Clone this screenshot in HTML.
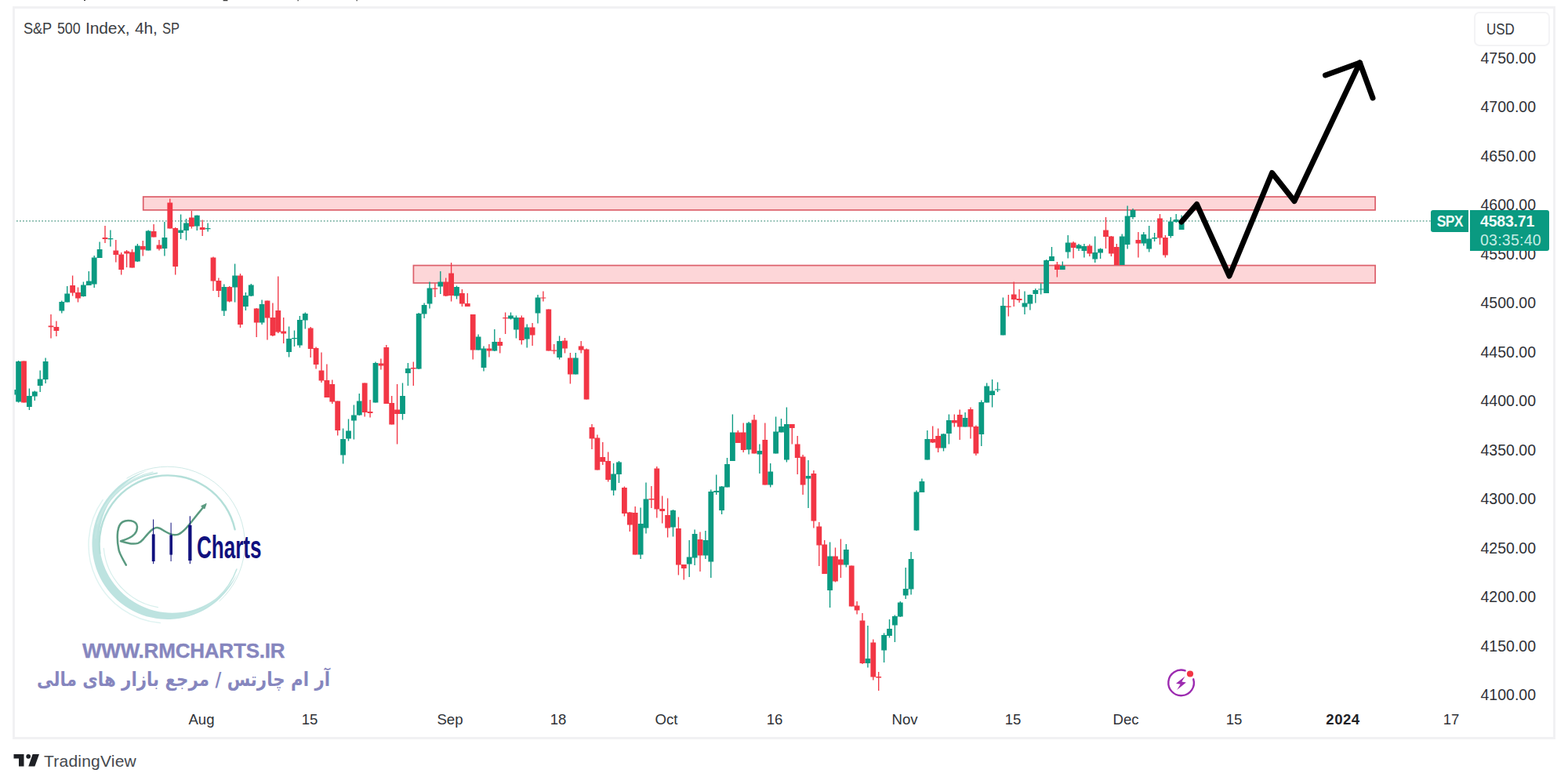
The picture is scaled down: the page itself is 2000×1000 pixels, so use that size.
<!DOCTYPE html>
<html lang="en"><head><meta charset="utf-8"><title>S&amp;P 500 Index, 4h, SP</title>
<style>
html,body{margin:0;padding:0;background:#fff;}
body{width:2000px;height:1000px;position:relative;overflow:hidden;font-family:"Liberation Sans",sans-serif;color:#2f3237;}
.frame{position:absolute;left:16.4px;top:8px;width:1967.6px;height:935px;border:3.4px solid #f1f1f3;box-sizing:border-box;}
.title{position:absolute;left:30.5px;top:24px;font-size:19.6px;line-height:24px;white-space:nowrap;color:#3b3e43;letter-spacing:-0.1px}
.title span{position:absolute;top:0;display:block;transform-origin:0 50%}
.usd{position:absolute;left:1880.3px;top:15px;width:97px;height:44px;border:2.4px solid #f3f3f5;border-radius:7px;box-sizing:border-box;}
.usd span{position:absolute;left:14.2px;top:7.6px;font-size:19.5px;line-height:24px;color:#35383d;display:inline-block;transform:scaleX(.87);transform-origin:0 50%}
.pl{position:absolute;left:1859px;width:100px;text-align:right;font-size:19.5px;line-height:24px;height:24px;color:#2f3237;white-space:nowrap;transform:scaleY(1.06)}
.tl{position:absolute;top:905.6px;width:80px;text-align:center;font-size:18.6px;line-height:24px;color:#2f3237;white-space:nowrap}
.tl.b{font-weight:bold;color:#1f2226;letter-spacing:.5px}
.spx{position:absolute;left:1825px;top:268px;width:48px;height:27.5px;background:#0a9a81;border-radius:3px 0 0 3px;color:#eefaf7;font-size:19.5px;line-height:28px;text-align:center;}
.spx span{display:inline-block;transform:scaleX(.9);font-weight:bold;letter-spacing:-0.8px}
.pv{position:absolute;left:1875px;top:268px;width:101px;height:52px;background:#0a9a81;border-radius:0 3px 3px 0;color:#f1fbf9;font-size:19.5px;}
.pv div{position:absolute;left:13px;white-space:nowrap;line-height:24px;letter-spacing:0.25px}
.tv{position:absolute;left:56px;top:958.7px;font-size:21px;line-height:24px;color:#45484e;white-space:nowrap;letter-spacing:0.22px}
.www{position:absolute;left:105px;top:814.6px;font-size:26px;line-height:30px;font-weight:bold;color:#8686be;white-space:nowrap;letter-spacing:-0.2px;-webkit-text-stroke:0.35px #8686be}
svg{position:absolute;left:0;top:0}
</style></head><body>
<div class="frame"></div>
<svg width="2000" height="1000" viewBox="0 0 2000 1000">
<!-- cropped header remnants -->
<g fill="#3a3a3a"><rect x="107" y="0" width="2" height="1"/><rect x="284.5" y="0" width="6" height="1.3" rx=".6"/><rect x="379.5" y="0" width="1.3" height="1.3"/><rect x="454.5" y="0" width="1.3" height="1.3"/></g>
<!-- zones -->
<rect x="182.7" y="251" width="1571.4" height="16.9" fill="#fdd6d8" stroke="#dc5f6a" stroke-width="1.7"/>
<rect x="527.4" y="338.55" width="1226.7" height="22.4" fill="#fdd6d8" stroke="#dc5f6a" stroke-width="1.7"/>
<!-- last price line -->
<line x1="20.99" y1="281.9" x2="1825" y2="281.9" stroke="#79b3a4" stroke-width="1.7" stroke-dasharray="1.7 2.34"/>
<!-- candles -->
<path d="M23.6 460V513.6M37.4 495.6V523M44.3 498.4V511M51.2 472.4V500M58.1 456.4V489M78.8 383.6V399.4M85.7 365V385.6M106.4 359.6V378.6M113.3 346V364M120.2 326V367M127.1 308.4V329M140.9 293.4V314.4M175.4 311V334M189.2 293.6V319.6M209.9 283V326.6M230.6 273.6V305M237.5 279V306.4M251.3 274.4V294M265.1 284.4V295.6M285.8 362.4V403M299.6 336.6V385.6M313.4 373V396M320.3 362V378M334.1 382.6V414M368.6 416.4V455.6M375.5 421.4V442M382.4 403V443.6M389.3 398.4V419.4M437.6 546.6V591.6M444.5 534.4V562.4M451.4 516.6V560.6M458.3 502V530M479 461.6V513.6M513.5 488.6V535.4M520.4 463V492M534.2 399V471M541.1 386.4V406M548 359.6V393.6M561.8 346V375M582.5 364.4V381.6M610.1 426.6V446.4M617 441.4V473.4M630.8 420V448M651.5 398.6V407.6M658.4 402.4V431.6M672.2 413.4V443.4M686 376V412.6M713.6 428.4V458.4M734.3 450V477.4M782.6 591V632M789.5 588V616M817.1 647.4V713M824 615.4V680.6M858.5 650V684.4M879.2 689V736M886.1 675.6V721M899.9 677V713M906.8 624.4V737M913.7 605.4V631M920.6 620V656M927.5 584V621.6M934.4 528.4V588M955.1 538V579.6M968.9 566.4V604M982.7 591V621.4M989.6 531.6V578.4M996.5 534V551.4M1003.4 519.6V589.4M1031 587V648M1058.6 691.6V775M1079.3 694V723.6M1106.9 798V851.4M1127.6 807.6V845M1134.5 790V813.6M1141.4 784.6V819M1148.3 767V787M1155.2 724V764M1162.1 704V758.4M1169 625.6V677M1175.9 610.4V628M1182.8 549V586.4M1203.5 553V575.6M1210.4 528.6V566.4M1231.1 526V544.4M1251.8 510.4V569M1258.7 488.4V513.6M1265.6 484V519.4M1272.5 487.4V500M1279.4 379.6V427.6M1307 371.4V401M1313.9 375.6V395.6M1320.8 368V386.4M1327.7 361.6V375.6M1334.6 331V374M1341.5 315V333M1355.3 333.6V344M1362.2 300V329.6M1376 311V320M1382.9 311V328.4M1396.7 301.6V335M1403.6 316.4V330M1431.2 298.4V338M1438.1 262.4V317.6M1445 266V279.6M1458.8 296V313.6M1465.7 288V321.4M1472.6 297V308M1493.3 277V303.6M1500.2 273V284M1507.1 274.4V293" stroke="#0a9a81" stroke-width="1.35" fill="none"/>
<path d="M30.5 460.4V513.6M65 401V431.6M71.9 409.4V429M92.6 351.4V377.6M99.5 366.4V385.6M134 288V310M147.8 306V334.6M154.7 322V350.6M161.6 319V341M168.5 318V341.6M182.3 307V326.4M196.1 286V302.4M203 306V319.6M216.8 253.6V291.6M223.7 290V350.6M244.4 269V291.6M258.2 280.4V301M272 327.4V371M278.9 354.4V379M292.7 365V385.6M306.5 349V418M327.2 393V430M341 383.6V433.6M347.9 386.4V429M354.8 352.6V425M361.7 405V438M396.2 417V456M403.1 442.4V470.4M410 449.6V488M416.9 464.4V507M423.8 484.4V515M430.7 511.6V555.6M465.2 488.4V531.4M472.1 510V532.6M485.9 457.6V471.6M492.8 440V515M499.7 505V541.6M506.6 490V566.4M527.3 461.6V492M554.9 361.6V379M568.7 354.4V378M575.6 335V384.4M589.4 369V391M596.3 374V391M603.2 401V458.4M623.9 439V455.6M637.7 431V450.4M644.6 398.6V426M665.3 402.4V439.6M679.1 412V441M692.9 371.6V384.4M699.8 394.4V447.4M706.7 439V451.6M720.5 431V450.4M727.4 450V489.6M741.2 435V450.4M748.1 444.4V509.4M755 541V573M761.9 554.4V599.6M768.8 564V593M775.7 576.4V614.4M796.4 620.6V658.6M803.3 653V678M810.2 646V707.6M830.9 620V648M837.8 595V660.4M844.7 632.6V667.6M851.6 635.6V685.6M865.4 659.6V733.6M872.3 720V739.6M893 678.4V729M941.3 549V565M948.2 539.6V577M962 529V578.4M975.8 539.6V618.6M1010.3 541V566.4M1017.2 556V605M1024.1 580V631M1037.9 600V673.6M1044.8 666V722M1051.7 689V732M1065.5 698.6V742.4M1072.4 687.6V737M1086.2 721.4V773.4M1093.1 767V783.6M1100 782V847M1113.8 815.6V867.6M1120.7 857V881M1189.7 543.6V565M1196.6 546.4V577M1217.3 528.6V544.4M1224.2 522.4V561M1238 519.6V559.6M1244.9 542.4V581M1286.3 376V403.6M1293.2 359.6V391M1300.1 369V386M1348.4 334V353.6M1369.1 308V329.6M1389.8 311.6V327M1410.5 277V317M1417.4 301V327M1424.3 311V338M1451.9 296V328.4M1479.5 273V312M1486.4 300V328.4" stroke="#f23645" stroke-width="1.35" fill="none"/>
<path d="M20.2 461h6.8v51.4h-6.8zM34 505h6.8v14h-6.8zM40.9 499.4h6.8v6.2h-6.8zM47.8 483.4h6.8v8.6h-6.8zM54.7 461h6.8v23h-6.8zM75.4 385h6.8v11.6h-6.8zM82.3 374.4h6.8v11.2h-6.8zM103 363.6h6.8v14.4h-6.8zM109.9 358.4h6.8v5.6h-6.8zM116.8 328.4h6.8v34.2h-6.8zM123.7 318h6.8v11h-6.8zM137.5 304h6.8v1.2h-6.8zM172 313.6h6.8v20h-6.8zM185.8 294.6h6.8v25h-6.8zM206.5 303h6.8v14h-6.8zM227.2 293.6h6.8v3.4h-6.8zM234.1 284.4h6.8v9.6h-6.8zM247.9 274.8h6.8v13.8h-6.8zM261.7 291h6.8v1.2h-6.8zM282.4 366h6.8v30.6h-6.8zM296.2 351.4h6.8v15h-6.8zM310 377h6.8v14h-6.8zM316.9 363.4h6.8v14.2h-6.8zM330.7 388h6.8v23.4h-6.8zM365.2 432h6.8v17h-6.8zM372.1 431h6.8v1.2h-6.8zM379 408h6.8v32.6h-6.8zM385.9 400h6.8v8.6h-6.8zM434.2 560h6.8v20.6h-6.8zM441.1 549.4h6.8v10h-6.8zM448 529.4h6.8v7h-6.8zM454.9 511.6h6.8v18h-6.8zM475.6 463h6.8v50.6h-6.8zM510.1 505h6.8v23h-6.8zM517 470h6.8v6h-6.8zM530.8 400h6.8v70.4h-6.8zM537.7 389h6.8v11.4h-6.8zM544.6 367.6h6.8v19.8h-6.8zM558.4 359.6h6.8v6h-6.8zM579.1 366h6.8v11.4h-6.8zM606.7 429.4h6.8v17h-6.8zM613.6 444.4h6.8v24.6h-6.8zM627.4 436h6.8v11.6h-6.8zM648.1 402.4h6.8v4.2h-6.8zM655 405h6.8v15.6h-6.8zM668.8 417.4h6.8v15.2h-6.8zM682.6 379.4h6.8v20h-6.8zM710.2 435h6.8v21h-6.8zM730.9 456.4h6.8v21h-6.8zM779.2 604.6h6.8v20.8h-6.8zM786.1 589.4h6.8v15.6h-6.8zM813.7 668h6.8v39.6h-6.8zM820.6 636.4h6.8v37.2h-6.8zM855.1 651h6.8v21.4h-6.8zM875.8 710.4h6.8v9.2h-6.8zM882.7 681h6.8v30.4h-6.8zM896.5 689h6.8v19.4h-6.8zM903.4 627h6.8v89.6h-6.8zM910.3 626h6.8v2h-6.8zM917.2 620.6h6.8v30.4h-6.8zM924.1 592h6.8v29.6h-6.8zM931 551.6h6.8v36.4h-6.8zM951.7 539.4h6.8v34.2h-6.8zM965.5 575h6.8v4.4h-6.8zM979.3 601.4h6.8v17.2h-6.8zM986.2 550.4h6.8v28h-6.8zM993.1 544h6.8v7.4h-6.8zM1000 541h6.8v45.4h-6.8zM1027.6 607h6.8v3.6h-6.8zM1055.2 709.4h6.8v43.6h-6.8zM1075.9 701h6.8v19.6h-6.8zM1103.5 840h6.8v6h-6.8zM1124.2 810h6.8v19.6h-6.8zM1131.1 802h6.8v9h-6.8zM1138 786h6.8v11.4h-6.8zM1144.9 768.4h6.8v18h-6.8zM1151.8 751h6.8v8.6h-6.8zM1158.7 713h6.8v38.6h-6.8zM1165.6 627.4h6.8v49.2h-6.8zM1172.5 614h6.8v14h-6.8zM1179.4 560h6.8v26.4h-6.8zM1200.1 553.4h6.8v18.2h-6.8zM1207 536h6.8v17h-6.8zM1227.7 533h6.8v11.4h-6.8zM1248.4 513h6.8v41h-6.8zM1255.3 492.6h6.8v21h-6.8zM1262.2 498.4h6.8v5.6h-6.8zM1269.1 496.4h6.8v1.2h-6.8zM1276 390h6.8v37.6h-6.8zM1303.6 386.6h6.8v4.8h-6.8zM1310.5 376h6.8v11.6h-6.8zM1317.4 370h6.8v5h-6.8zM1324.3 368.4h6.8v1.2h-6.8zM1331.2 332h6.8v42h-6.8zM1338.1 327h6.8v6h-6.8zM1351.9 339h6.8v5h-6.8zM1358.8 309.6h6.8v11.8h-6.8zM1372.6 312.6h6.8v4.4h-6.8zM1379.5 314h6.8v6h-6.8zM1393.3 322h6.8v8.6h-6.8zM1400.2 317.6h6.8v4.8h-6.8zM1427.8 301.6h6.8v36.4h-6.8zM1434.7 275.6h6.8v36.4h-6.8zM1441.6 268h6.8v9h-6.8zM1455.4 299h6.8v11.6h-6.8zM1462.3 304.6h6.8v12.8h-6.8zM1469.2 303h6.8v1.6h-6.8zM1489.9 282.4h6.8v18.6h-6.8zM1496.8 280h6.8v3h-6.8zM1503.7 282.6h6.8v10.4h-6.8z" fill="#0a9a81"/>
<path d="M27.1 460.4h6.8v53.2h-6.8zM61.6 415.6h6.8v1.6h-6.8zM68.5 417h6.8v5h-6.8zM89.2 364h6.8v9.6h-6.8zM96.1 373h6.8v7.4h-6.8zM130.6 303h6.8v2h-6.8zM144.4 319.4h6.8v5.6h-6.8zM151.3 324.4h6.8v19.6h-6.8zM158.2 320.6h6.8v2.8h-6.8zM165.1 321.6h6.8v20h-6.8zM178.9 314h6.8v4.4h-6.8zM192.7 295h6.8v7.4h-6.8zM199.6 312.4h6.8v5h-6.8zM213.4 258.4h6.8v33.2h-6.8zM220.3 291h6.8v49h-6.8zM241 277.4h6.8v11.6h-6.8zM254.8 290h6.8v3h-6.8zM268.6 328.4h6.8v30h-6.8zM275.5 358h6.8v13h-6.8zM289.3 366h6.8v18.4h-6.8zM303.1 351.4h6.8v62.6h-6.8zM323.8 393.4h6.8v18h-6.8zM337.6 383.6h6.8v22h-6.8zM344.5 405h6.8v23h-6.8zM351.4 396h6.8v27.4h-6.8zM358.3 422.6h6.8v3h-6.8zM392.8 418.4h6.8v26.6h-6.8zM399.7 444h6.8v21h-6.8zM406.6 472.4h6.8v13h-6.8zM413.5 485h6.8v22h-6.8zM420.4 490h6.8v22.4h-6.8zM427.3 511.6h6.8v37.4h-6.8zM461.8 488.4h6.8v37.6h-6.8zM468.7 525h6.8v2h-6.8zM482.5 463.4h6.8v3h-6.8zM489.4 443h6.8v72h-6.8zM496.3 514h6.8v27.6h-6.8zM503.2 522.4h6.8v5.6h-6.8zM523.9 469h6.8v1.4h-6.8zM551.5 367.6h6.8v1.2h-6.8zM565.3 359.6h6.8v18h-6.8zM572.2 348.6h6.8v28.4h-6.8zM586 374h6.8v13.4h-6.8zM592.9 387h6.8v4h-6.8zM599.8 401h6.8v45.4h-6.8zM620.5 444.4h6.8v3.2h-6.8zM634.3 436h6.8v5h-6.8zM641.2 405h6.8v1.2h-6.8zM661.9 405h6.8v29h-6.8zM675.7 417.4h6.8v10h-6.8zM689.5 379.4h6.8v1.2h-6.8zM696.4 394.4h6.8v53h-6.8zM703.3 446.6h6.8v1.2h-6.8zM717.1 434.6h6.8v9.8h-6.8zM724 456.4h6.8v21h-6.8zM737.8 441.6h6.8v4.8h-6.8zM744.7 445.6h6.8v63.8h-6.8zM751.6 545h6.8v14.4h-6.8zM758.5 558.6h6.8v41h-6.8zM765.4 583h6.8v6h-6.8zM772.3 588h6.8v24h-6.8zM793 622h6.8v33h-6.8zM799.9 653.6h6.8v16h-6.8zM806.8 654h6.8v53.6h-6.8zM827.5 636h6.8v1.6h-6.8zM834.4 597.6h6.8v52h-6.8zM841.3 649h6.8v3h-6.8zM848.2 657h6.8v16.6h-6.8zM862 674h6.8v46.6h-6.8zM868.9 720h6.8v5h-6.8zM889.6 688h6.8v20.4h-6.8zM937.9 551.6h6.8v13.4h-6.8zM944.8 551.6h6.8v22.4h-6.8zM958.6 535.6h6.8v42.8h-6.8zM972.4 561h6.8v57.6h-6.8zM1006.9 541h6.8v5h-6.8zM1013.8 566.6h6.8v17.4h-6.8zM1020.7 582.6h6.8v36h-6.8zM1034.5 604h6.8v60.4h-6.8zM1041.4 671.6h6.8v24h-6.8zM1048.3 694.4h6.8v37.6h-6.8zM1062.1 709.4h6.8v32h-6.8zM1069 713.4h6.8v7.2h-6.8zM1082.8 721.4h6.8v52h-6.8zM1089.7 772.6h6.8v5.8h-6.8zM1096.6 791.4h6.8v54.6h-6.8zM1110.4 819.6h6.8v44h-6.8zM1117.3 863h6.8v1.6h-6.8zM1186.3 560h6.8v4.4h-6.8zM1193.2 556h6.8v15.4h-6.8zM1213.9 536h6.8v3.4h-6.8zM1220.8 529h6.8v15.4h-6.8zM1234.6 522h6.8v22.4h-6.8zM1241.5 544h6.8v34.4h-6.8zM1282.9 390.6h6.8v1.2h-6.8zM1289.8 375.6h6.8v6.4h-6.8zM1296.7 381h6.8v2h-6.8zM1345 337.6h6.8v6.4h-6.8zM1365.7 309.6h6.8v6.4h-6.8zM1386.4 313.6h6.8v10h-6.8zM1407.1 293.6h6.8v8.4h-6.8zM1414 301.6h6.8v22h-6.8zM1420.9 315h6.8v23h-6.8zM1448.5 306h6.8v4.6h-6.8zM1476.1 278.4h6.8v25.2h-6.8zM1483 303h6.8v22.6h-6.8z" fill="#f23645"/>
<rect x="18.5" y="497" width="2" height="6.5" fill="#0a9a81"/>
<!-- forecast arrow -->
<path d="M1507 283 L1526.5 260.5 L1568 352 L1622.5 220.5 L1651 256.5 L1734.5 80" fill="none" stroke="#000" stroke-width="7" stroke-linejoin="round" stroke-linecap="round"/>
<path d="M1690.5 96 L1734.5 80 L1751 125" fill="none" stroke="#000" stroke-width="7" stroke-linejoin="round" stroke-linecap="round"/>
<!-- RM Charts logo -->
<g fill="none" stroke-linecap="round">
<path d="M189.6 600.1A96.5 96.5 0 1 0 303.0 730.7A93.3 93.3 0 1 1 189.6 600.1Z" fill="#b7e1dd" stroke="none" opacity=".92"/>
<path d="M127.4 705.7 A87.5 87.5 0 0 1 299.6 675.3" stroke="#b4dfd9" stroke-width="2.4"/>
<path d="M121.8 686.0 A91.5 91.5 0 0 1 200.3 603.4" stroke="#c3e6e2" stroke-width="2"/>
<path d="M124.1 668.1 A94 94 0 0 1 195.0 602.1" stroke="#cdebe7" stroke-width="1.4"/>
<path d="M161.8 610.0 A98.5 98.5 0 0 1 279.9 766.7" stroke="#cfeae7" stroke-width="1"/>
<path d="M301.9 726.0 A93.5 93.5 0 0 1 238.2 784.3" stroke="#c3e6e2" stroke-width="1.6"/>
<path d="M201.4 774.7 A84 84 0 0 1 132.3 699.3" stroke="#d6efec" stroke-width="1.2"/>
<path d="M204.3 794.6 A100 100 0 0 1 131.1 637.6" stroke="#dff3f1" stroke-width="1.5"/>
</g>
<path d="M160.8 720.6C155 710 151.6 705 151.3 700C149.6 692 149.4 685 150.2 678C151 672 153 668 156.2 665.9C159.5 663.8 163.5 663.6 167.2 664.3C171.5 665.2 174.6 667.5 174.9 671.4C175.2 675.5 174 678.5 171.6 681.3C167.5 686 160 688.5 154 690.3C158 691.2 163 693 167.2 693.4C170.5 693.7 173.5 693.6 176 692.9C178.6 692 180.8 690 182.6 687.9C185.5 684.5 188.3 681 191.4 678C194 675.4 197 673.3 200.2 673.1C203.5 673 206.2 675.2 209 676.9C212.5 679 216 681.2 220 681.9C222.2 682.3 224.5 682.4 226.6 681.9C230.4 681 233.6 677.7 236.5 674.7C240.5 670.6 244 666 247.5 661.5C252 655.8 256.5 650.3 261 645" fill="none" stroke="#5a9a80" stroke-width="2.5" stroke-linecap="round" stroke-linejoin="round"/>
<path d="M263.2 642.4L256.6 645.6L260.9 649Z" fill="#5a9a80" stroke="#5a9a80" stroke-width="1" stroke-linejoin="round"/>
<g fill="#11117e" role="img" aria-label="RM Charts"><title>RM Charts</title>
<rect x="195.1" y="662.5" width="1" height="56.7"/><rect x="193.8" y="681.4" width="3.8" height="34.6"/>
<rect x="217.6" y="666.7" width="1" height="49.3"/><rect x="216.4" y="682.4" width="3.6" height="25.2"/>
<rect x="241.8" y="658.3" width="1.1" height="60.9"/><rect x="240.2" y="669.8" width="4.3" height="45.2"/>
<text x="251" y="711.5" font-family="'Liberation Sans', sans-serif" font-size="40" font-weight="bold" fill="#11117e" textLength="82.5" lengthAdjust="spacingAndGlyphs">Charts</text>
</g>

<!-- replay / flash icon -->
<path d="M1511.6 855.4A16.3 16.3 0 1 0 1522.2 866.3" fill="none" stroke="#9c2bb0" stroke-width="2.4" stroke-linecap="round"/>
<path d="M1511.4 862.8L1500 871.8L1505.6 872.8L1501.2 879.9L1512.9 870.6L1507.4 869.6Z" fill="#9c2bb0"/>
<circle cx="1518" cy="859.5" r="4.1" fill="#f23645"/>

<!-- TradingView mark -->
<g fill="#1e2025"><path d="M17.5 962H30.5V977.6H24V967.6H17.5Z"/><circle cx="36.2" cy="964.8" r="2.9"/><path d="M41.6 962H50L44.4 977.6H36.3Z"/></g>

<g role="img" aria-label="آر ام چارتس / مرجع بازار های مالی"><title>آر ام چارتس / مرجع بازار های مالی</title>
<text x="234" y="875.2" text-anchor="middle" direction="rtl" font-family="'DejaVu Sans', sans-serif" font-size="25" font-weight="bold" fill="#8686be" textLength="374" lengthAdjust="spacingAndGlyphs">آر ام چارتس / مرجع بازار های مالی</text></g>

</svg>
<div class="title"><span style="left:-0.4px;transform:scaleX(.93)">S&amp;P</span> <span style="left:42.2px;transform:scaleX(.911)">500</span> <span style="left:78.6px;transform:scaleX(1.07)">Index,</span> <span style="left:141.8px;transform:scaleX(1.07)">4h,</span> <span style="left:176.4px;transform:scaleX(.84)">SP</span></div>
<div class="usd"><span>USD</span></div>
<div class="pl" style="top:61.5px">4750.00</div>
<div class="pl" style="top:124px">4700.00</div>
<div class="pl" style="top:186.5px">4650.00</div>
<div class="pl" style="top:249px">4600.00</div>
<div class="pl" style="top:311.5px">4550.00</div>
<div class="pl" style="top:374px">4500.00</div>
<div class="pl" style="top:436.5px">4450.00</div>
<div class="pl" style="top:499px">4400.00</div>
<div class="pl" style="top:561.5px">4350.00</div>
<div class="pl" style="top:624px">4300.00</div>
<div class="pl" style="top:686.5px">4250.00</div>
<div class="pl" style="top:749px">4200.00</div>
<div class="pl" style="top:811.5px">4150.00</div>
<div class="pl" style="top:874px">4100.00</div>
<div class="spx"><span>SPX</span></div>
<div class="pv"><div style="top:2px;font-weight:bold;letter-spacing:-0.2px">4583.71</div><div style="top:26px;color:#c5ece4">03:35:40</div></div>
<div class="tl" style="left:217px">Aug</div>
<div class="tl" style="left:355px">15</div>
<div class="tl" style="left:534px">Sep</div>
<div class="tl" style="left:672px">18</div>
<div class="tl" style="left:810px">Oct</div>
<div class="tl" style="left:948px">16</div>
<div class="tl" style="left:1114px">Nov</div>
<div class="tl" style="left:1252px">15</div>
<div class="tl" style="left:1396px">Dec</div>
<div class="tl" style="left:1534px">15</div>
<div class="tl b" style="left:1673px">2024</div>
<div class="tl" style="left:1811px">17</div>
<div class="www">WWW.RMCHARTS.IR</div>
<div class="tv">TradingView</div>
</body></html>
